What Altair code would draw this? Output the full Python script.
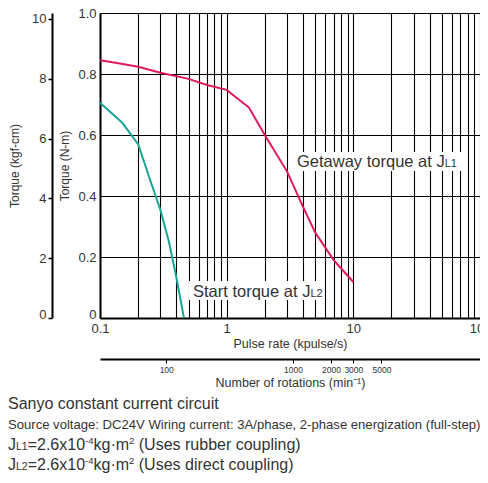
import altair as alt
import pandas as pd

# ---- data ----
pulse_getaway = [0.1, 0.14, 0.2, 0.3, 0.5, 0.7, 1.0, 1.5, 2.0, 3.0, 4.0, 5.0, 7.0, 10.0]
torque_getaway = [0.845, 0.835, 0.824, 0.804, 0.784, 0.764, 0.748, 0.69, 0.60, 0.48, 0.365, 0.28, 0.19, 0.118]
pulse_start = [0.1, 0.15, 0.2, 0.25, 0.3, 0.35, 0.4, 0.46]
torque_start = [0.706, 0.64, 0.57, 0.45, 0.354, 0.25, 0.135, 0.0]

x_grid = [0.1, 0.2, 0.3, 0.4, 0.5, 0.6, 0.7, 0.8, 0.9,
          1, 2, 3, 4, 5, 6, 7, 8, 9,
          10, 20, 30, 40, 50, 60, 70, 80, 90, 100]
y_ticks = [0, 0.2, 0.4, 0.6, 0.8, 1.0]
kgf_ticks = [0, 2, 4, 6, 8, 10]
rpm_ticks = [100, 1000, 2000, 3000, 5000]

series_names = ["Getaway torque at JL1", "Start torque at JL2"]
series_colors = ["#e0185c", "#17a598"]

# ---- styling ----
FONT = "Liberation Sans"
TXT = "#333333"
W, H = 380, 305

AW = {" ": 278, "(": 333, ")": 333, "-": 333, ".": 278, "/": 278, ":": 278, "=": 584,
      "·": 333, ",": 278}
for ch in "0123456789":
    AW[ch] = 556
AW.update({"A": 667, "C": 722, "D": 722, "G": 778, "J": 500, "L": 556, "S": 667, "U": 722,
           "V": 667, "W": 944, "a": 556, "b": 556, "c": 500, "d": 556, "e": 556, "f": 278,
           "g": 556, "h": 556, "i": 222, "k": 500, "l": 222, "m": 833, "n": 556, "o": 556,
           "p": 556, "q": 556, "r": 333, "s": 500, "t": 278, "u": 556, "v": 500, "w": 722,
           "x": 500, "y": 500, "z": 500})


def text_width(s, size):
    return sum(AW.get(c, 556) for c in s) * size / 1000.0


one = pd.DataFrame({"k": [0]})


def rich_text(pieces, x0, y0, font=FONT, color=TXT):
    layers = []
    x = x0
    for s, size, dy in pieces:
        stripped = s.lstrip(" ")
        lead = text_width(s[: len(s) - len(stripped)], size)
        layers.append(
            alt.Chart(one).mark_text(text=stripped, font=font, fontSize=size, color=color,
                                     align="left", baseline="alphabetic", dy=dy)
            .encode(x=alt.value(x + lead), y=alt.value(y0))
        )
        x += text_width(s, size)
    return layers


def white_box(x1, x2, y1, y2):
    return alt.Chart(one).mark_rect(color="white").encode(
        x=alt.value(x1), x2=alt.value(x2), y=alt.value(y1), y2=alt.value(y2))


rows = []
for p, t in zip(pulse_getaway, torque_getaway):
    rows.append({"pulse": p, "torque": t, "series": series_names[0]})
for p, t in zip(pulse_start, torque_start):
    rows.append({"pulse": p, "torque": t, "series": series_names[1]})
df = pd.DataFrame(rows)

zero_low = {"condition": {"test": "datum.value == 0", "value": "alphabetic"}, "value": "middle"}

x_axis = alt.Axis(
    values=x_grid, format="~g",
    labelExpr="(datum.value == 0.1 || datum.value == 1 || datum.value == 10 || datum.value == 100) ? datum.label : ''",
    grid=True, gridColor="black", gridWidth=1.1, gridOpacity=1,
    ticks=False, domainColor="black", domainWidth=2,
    labelFontSize=13, labelColor=TXT, labelPadding=4, labelFlush=False, labelOverlap=False,
    title="Pulse rate (kpulse/s)", titleFontSize=12.5, titleFontWeight="normal",
    titleColor=TXT, titlePadding=2)

y_axis = alt.Axis(
    values=y_ticks,
    labelExpr="datum.value == 0 ? '0' : format(datum.value, '.1f')",
    labelBaseline=zero_low,
    grid=True, gridColor="black", gridWidth=1.2, gridOpacity=1,
    ticks=False, domainColor="black", domainWidth=2,
    labelFontSize=13, labelColor=TXT, labelPadding=4,
    title="Torque (N-m)", titleFontSize=12, titleFontWeight="normal",
    titleColor=TXT, titlePadding=6)

curves = alt.Chart(df).mark_line(strokeWidth=2).encode(
    x=alt.X("pulse:Q", scale=alt.Scale(type="log", domain=[0.1, 100]), axis=x_axis),
    y=alt.Y("torque:Q", scale=alt.Scale(domain=[0, 1]), axis=y_axis),
    color=alt.Color("series:N", scale=alt.Scale(domain=series_names, range=series_colors),
                    legend=None),
    order="pulse:Q",
)

annot = [
    white_box(193, 365, 139, 158),
    white_box(89, 223, 268, 287),
]
annot += rich_text([("Getaway torque at J", 16.5, 0), ("L1", 11, 0)], 197, 154)
annot += rich_text([("Start torque at J", 16.5, 0), ("L2", 11, 0)], 93, 284)

notes = []
notes += rich_text([("Sanyo constant current circuit", 16, 0)], -92, 396)
notes += rich_text([("Source voltage: DC24V Wiring current: 3A/phase, 2-phase energization (full-step)", 13.1, 0)],
                   -92, 416)
notes += rich_text([("J", 16, 0), ("L1", 10.5, 0), ("=2.6x10", 16, 0), ("-4", 9.5, -6),
                    ("kg·m", 16, 0), ("2", 9.5, -6), (" (Uses rubber coupling)", 16, 0)], -92, 437)
notes += rich_text([("J", 16, 0), ("L2", 10.5, 0), ("=2.6x10", 16, 0), ("-4", 9.5, -6),
                    ("kg·m", 16, 0), ("2", 9.5, -6), (" (Uses direct coupling)", 16, 0)], -92, 457)

inner = alt.layer(annot[0], annot[1], curves, *annot[2:], *notes)

kgf_layer = alt.Chart(pd.DataFrame({"kgf": kgf_ticks})).mark_point(opacity=0).encode(
    y=alt.Y("kgf:Q", scale=alt.Scale(domain=[0, 10.197]),
            axis=alt.Axis(orient="left", offset=48, values=kgf_ticks, format="d",
                          labelBaseline=zero_low,
                          grid=False, ticks=True, tickSize=4, tickColor="black", tickWidth=1.5,
                          domainColor="black", domainWidth=2,
                          labelFontSize=13, labelColor=TXT, labelPadding=2,
                          title="Torque (kgf-cm)", titleFontSize=12, titleFontWeight="normal",
                          titleColor=TXT, titlePadding=10))
)

rpm_layer = alt.Chart(pd.DataFrame({"rpm": rpm_ticks})).mark_point(opacity=0).encode(
    x=alt.X("rpm:Q", scale=alt.Scale(type="log", domain=[30, 30000]),
            axis=alt.Axis(orient="bottom", offset=41, values=rpm_ticks, format="d",
                          grid=False, ticks=True, tickSize=4, tickColor="black", tickWidth=1,
                          domainColor="black", domainWidth=2,
                          labelFontSize=8.5, labelColor=TXT, labelPadding=2,
                          labelFlush=False, labelOverlap=False,
                          title="Number of rotations (min⁻¹)", titleFontSize=12.5,
                          titleFontWeight="normal", titleColor=TXT, titlePadding=3))
)

chart = alt.layer(inner, kgf_layer, rpm_layer).resolve_scale(
    x="independent", y="independent"
).properties(
    width=W, height=H,
    autosize=alt.AutoSizeParams(type="none"),
    padding={"left": 92, "top": 5, "right": 0, "bottom": 157},
).configure(font=FONT).configure_view(stroke=None)

chart.save("out.html", embed_options={"renderer": "svg", "actions": False})
